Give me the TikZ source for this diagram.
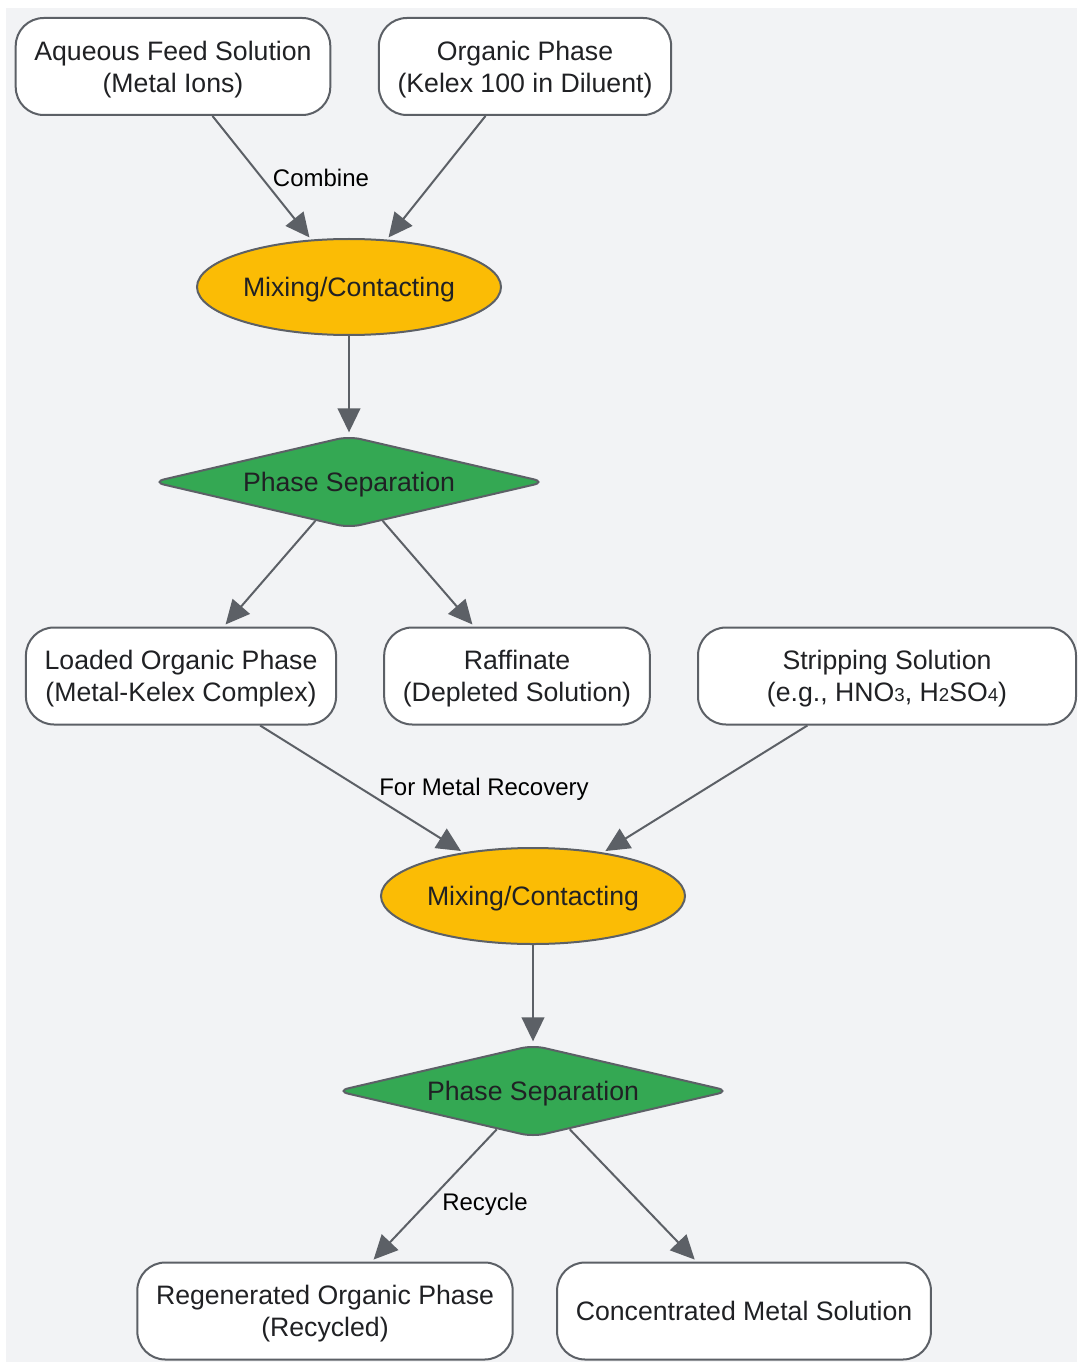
\documentclass[tikz,border=0pt]{standalone}
\usepackage{fontspec}
\setmainfont{Liberation Sans}
\usepackage{tikz}
\usetikzlibrary{shapes.geometric,arrows.meta}

\definecolor{bggray}{HTML}{F2F3F5}
\definecolor{edgegray}{HTML}{5C6066}
\definecolor{mixfill}{HTML}{FBBC05}
\definecolor{sepfill}{HTML}{34A853}
\definecolor{txtdark}{HTML}{202124}

\newcommand{\chemsub}[1]{{\fontsize{14}{14}\selectfont #1}}

\begin{document}
\begin{tikzpicture}[x=0.75pt,y=-0.75pt,
    >={Triangle[length=18pt,width=17pt]},
    every node/.style={font=\fontsize{20}{24}\selectfont,text=txtdark,text depth=0pt},
    boxnode/.style={draw=edgegray,line width=1.5pt,fill=white,rectangle,rounded corners=21pt,
      minimum height=72.75pt,inner xsep=14pt,align=center},
    mixnode/.style={draw=edgegray,line width=1.5pt,fill=mixfill,ellipse,
      minimum width=228pt,minimum height=72pt,inner sep=0pt},
    sepnode/.style={draw=edgegray,line width=1.5pt,fill=sepfill,diamond,aspect=4.3,rounded corners=9pt,
      minimum width=295pt,minimum height=69pt,inner sep=0pt},
    flow/.style={->,draw=edgegray,fill=edgegray,line width=1.5pt,shorten >=2pt},
    lbl/.style={font=\fontsize{18}{21}\selectfont,text=black}]
  % background
  \useasboundingbox (0,0) rectangle (1077,1362);
  \fill[white] (0,0) rectangle (1077,1362);
  \fill[bggray] (6,8) rectangle (1077,1362);

  % extraction stage
  \node[boxnode] (aq) at (173,66.5) {Aqueous Feed Solution\\(Metal Ions)};
  \node[boxnode] (org) at (525,66.5) {Organic Phase\\(Kelex 100 in Diluent)};
  \node[mixnode] (mix1) at (349,287) {Mixing/Contacting};
  \node[sepnode] (sep1) at (349,482) {Phase Separation};
  \node[boxnode] (loaded) at (181,676) {Loaded Organic Phase\\(Metal-Kelex Complex)};
  \node[boxnode] (raff) at (517,676) {Raffinate\\(Depleted Solution)};

  % stripping stage
  \node[boxnode,minimum width=283.5pt] (strip) at (887,676) {Stripping Solution\\(e.g., HNO\chemsub{3}, H\chemsub{2}SO\chemsub{4})};
  \node[mixnode] (mix2) at (533,896) {Mixing/Contacting};
  \node[sepnode] (sep2) at (533,1091) {Phase Separation};
  \node[boxnode] (regen) at (325,1311) {Regenerated Organic Phase\\(Recycled)};
  \node[boxnode] (conc) at (744,1311) {Concentrated Metal Solution};

  % connectors
  \draw[flow] (aq) -- (mix1);
  \draw[flow] (org) -- (mix1);
  \draw[flow] (mix1) -- (sep1);
  \draw[flow] (sep1) -- (loaded);
  \draw[flow] (sep1) -- (raff);
  \draw[flow] (loaded) -- (mix2);
  \draw[flow] (strip) -- (mix2);
  \draw[flow] (mix2) -- (sep2);
  \draw[flow] (sep2) -- (regen);
  \draw[flow] (sep2) -- (conc);

  % edge labels
  \node[lbl] (lcombine) at (321,178) {Combine};
  \node[lbl] (lrecovery) at (484,787) {For Metal Recovery};
  \node[lbl] (lrecycle) at (485,1202) {Recycle};
\end{tikzpicture}
\end{document}
